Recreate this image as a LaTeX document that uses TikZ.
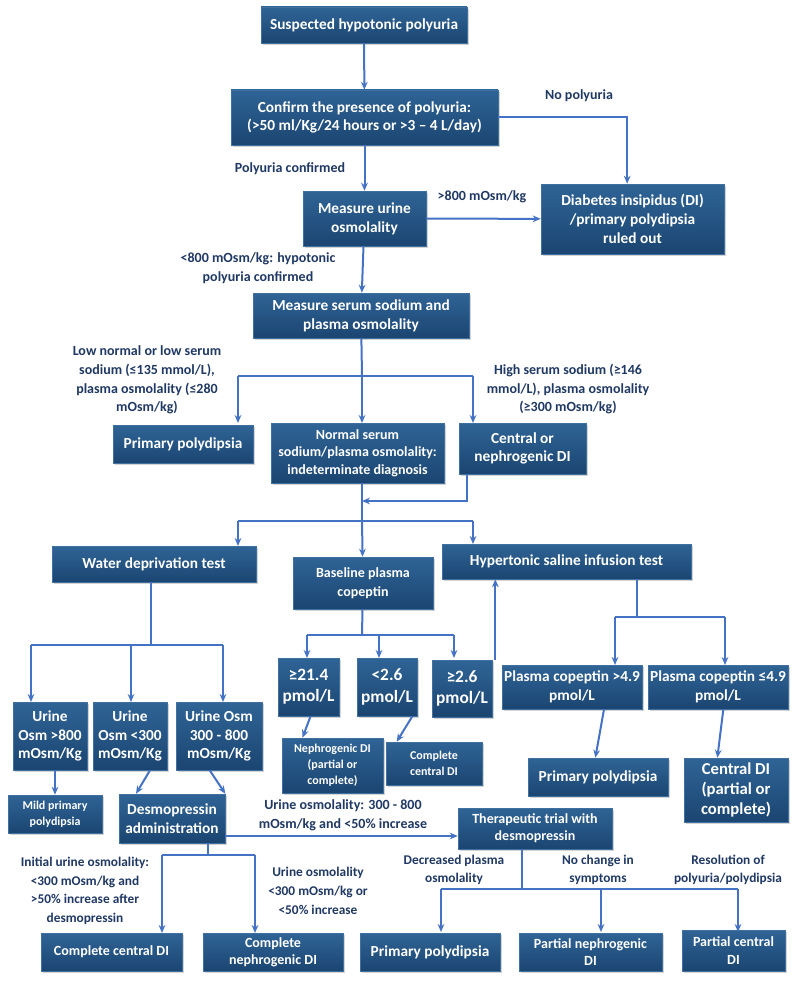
\documentclass[tikz,border=0pt]{standalone}
\usepackage{fontspec}
\setmainfont{Carlito}
\usetikzlibrary{arrows.meta,shadows}
\definecolor{boxtop}{HTML}{2F6496}
\definecolor{boxbot}{HTML}{1B4571}
\definecolor{boxedge}{HTML}{3F70A0}
\definecolor{arrowblue}{HTML}{4472C4}
\definecolor{labelblue}{HTML}{1F3864}
\tikzset{
  box/.style={top color=boxtop, bottom color=boxbot, draw=boxedge, thin,
    text=white, align=center, inner sep=1pt,
    font=\bfseries\fontsize{11.5}{14}\selectfont,
    drop shadow={opacity=0.35, shadow xshift=1.2pt, shadow yshift=-1.2pt}},
  sz/.style 2 args={minimum width=#1*0.75pt, minimum height=#2*0.75pt},
  lbl/.style={text=labelblue, align=center, inner sep=0pt,
    font=\bfseries\fontsize{10.5}{14}\selectfont},
  arr/.style={draw=arrowblue, line width=1.5pt, -{Stealth[length=6pt,width=5pt]}},
  ln/.style={draw=arrowblue, line width=1.5pt}
}
\begin{document}
\begin{tikzpicture}[x=0.75pt, y=-0.75pt]
    \useasboundingbox (0,0) rectangle (800,988);
    % boxes
    \node[box, sz={206}{36}] (susp) at (364,25) {Suspected hypotonic polyuria};
    \node[box, sz={267}{55}] (confirm) at (364.5,117.5) {Confirm the presence of polyuria:\\(>50 ml/Kg/24 hours or >3 -- 4 L/day)};
    \node[box, sz={123}{55}] (urosm) at (364.5,218.5) {Measure urine\\osmolality};
    \node[box, sz={183}{70}] (ruled) at (632.5,219) {Diabetes insipidus (DI)\\/primary polydipsia\\ruled out};
    \node[box, sz={216}{45}] (serum) at (361,315.5) {Measure serum sodium and\\plasma osmolality};
    \node[box, sz={140}{38}] (pp) at (183,444) {Primary polydipsia};
    \node[box, sz={173}{60}, font=\bfseries\fontsize{10.5}{13}\selectfont] (indet) at (357.5,453) {Normal serum\\sodium/plasma osmolality:\\indeterminate diagnosis};
    \node[box, sz={127}{51}] (cneph) at (522.5,448.5) {Central or\\nephrogenic DI};
    \node[box, sz={204}{36}] (water) at (154,564) {Water deprivation test};
    \node[box, sz={140}{52}, font=\bfseries\fontsize{10.5}{14}\selectfont] (base) at (363,583) {Baseline plasma\\copeptin};
    \node[box, sz={249}{35}] (hyper) at (566.5,561.5) {Hypertonic saline infusion test};
    \node[box, sz={74}{68}] (uA) at (50,736) {Urine\\Osm >800\\mOsm/Kg};
    \node[box, sz={74}{68}] (uB) at (130,736) {Urine\\Osm <300\\mOsm/Kg};
    \node[box, sz={86}{68}] (uC) at (219,736) {Urine Osm\\300 - 800\\mOsm/Kg};
    \node[box, sz={94}{38}, font=\bfseries\fontsize{9}{12}\selectfont] (mild) at (55,814) {Mild primary\\polydipsia};
    \node[box, sz={106}{49}] (desmo) at (172,818.5) {Desmopressin\\administration};
    \node[box, sz={61}{58}, font=\bfseries\fontsize{13}{16}\selectfont] (pA) at (308.5,687) {≥21.4\\pmol/L};
    \node[box, sz={60}{58}, font=\bfseries\fontsize{13}{16}\selectfont] (pB) at (387,687) {<2.6\\pmol/L};
    \node[box, sz={60}{57}, font=\bfseries\fontsize{13}{16}\selectfont] (pC) at (462,688.5) {≥2.6\\pmol/L};
    \node[box, sz={101}{55}, font=\bfseries\fontsize{9}{12}\selectfont] (nephA) at (332.5,765.5) {Nephrogenic DI\\(partial or\\complete)};
    \node[box, sz={96}{43}, font=\bfseries\fontsize{9}{12}\selectfont] (ccA) at (434,763.5) {Complete\\central DI};
    \node[box, sz={140}{44}] (copA) at (572,687) {Plasma copeptin >4.9\\pmol/L};
    \node[box, sz={140}{44}] (copB) at (718,687) {Plasma copeptin ≤4.9\\pmol/L};
    \node[box, sz={140}{38}] (ppB) at (598,777) {Primary polydipsia};
    \node[box, sz={104}{64}, font=\bfseries\fontsize{12.5}{15}\selectfont] (cdi) at (736,790) {Central DI\\(partial or\\complete)};
    \node[box, sz={154}{41}, font=\bfseries\fontsize{10.5}{13}\selectfont] (ther) at (535,828.5) {Therapeutic trial with\\desmopressin};
    \node[box, sz={141}{38}, font=\bfseries\fontsize{10.5}{13}\selectfont] (ccB) at (111.5,952) {Complete central DI};
    \node[box, sz={140}{38}, font=\bfseries\fontsize{10.5}{13}\selectfont] (nephB) at (273,952) {Complete\\nephrogenic DI};
    \node[box, sz={140}{38}, font=\bfseries\fontsize{11.5}{13}\selectfont] (ppC) at (430,952) {Primary polydipsia};
    \node[box, sz={143}{38}, font=\bfseries\fontsize{10.5}{13}\selectfont] (pnd) at (590.5,952) {Partial nephrogenic\\DI};
    \node[box, sz={103}{41}, font=\bfseries\fontsize{10.5}{13}\selectfont] (pcd) at (733.5,950.5) {Partial central\\DI};
    % labels
    \node[lbl] (lnopol) at (579,96) {No polyuria};
    \node[lbl] (lconf) at (290,169) {Polyuria confirmed};
    \node[lbl] (lhigh800) at (482,197) {>800 mOsm/kg};
    \node[lbl] (llow800) at (258,268) {<800 mOsm/kg: hypotonic\\polyuria confirmed};
    \node[lbl] (llowna) at (147,380) {Low normal or low serum\\sodium (≤135 mmol/L),\\plasma osmolality (≤280\\mOsm/kg)};
    \node[lbl] (lhighna) at (568,389) {High serum sodium (≥146\\mmol/L), plasma osmolality\\(≥300 mOsm/kg)};
    \node[lbl] (l300) at (343,815) {Urine osmolality: 300 - 800\\mOsm/kg and <50\% increase};
    \node[lbl, font=\bfseries\fontsize{10}{14}\selectfont] (linit) at (85,891) {Initial urine osmolality:\\<300 mOsm/kg and\\>50\% increase after\\desmopressin};
    \node[lbl, font=\bfseries\fontsize{10}{14}\selectfont] (lurine) at (318,891) {Urine osmolality\\<300 mOsm/kg or\\<50\% increase};
    \node[lbl, font=\bfseries\fontsize{10}{14}\selectfont] (ldec) at (454,870) {Decreased plasma\\osmolality};
    \node[lbl, font=\bfseries\fontsize{10}{14}\selectfont] (lnoch) at (598,870) {No change in\\symptoms};
    \node[lbl, font=\bfseries\fontsize{10}{14}\selectfont] (lres) at (728,870) {Resolution of\\polyuria/polydipsia};
    % junctions
    \coordinate (jserum) at (362,376);
    \coordinate (jcneph) at (362,501);
    \coordinate (jtest) at (362,521);
    \coordinate (jwater) at (151,645);
    \coordinate (jbase) at (362,635);
    \coordinate (jhyper) at (637,617);
    \coordinate (jdesmo) at (208,855);
    \coordinate (jther) at (522,889);
    % edges
    \draw[arr] (susp) -- (confirm);
    \draw[arr] (confirm) -- (urosm);
    \draw[arr] (confirm.east) -| ([xshift=-4]ruled.north);
    \draw[arr] (urosm) -- (ruled);
    \draw[arr] (urosm) -- (serum);
    \draw[ln] (serum) -- (jserum);
    \draw[ln] (238,376) -- (473,376);
    \foreach \x in {238,362,473}
        \draw[arr] (\x,376) -- (\x,423);
    \draw[arr] ([xshift=-42]cneph.south) |- (jcneph);
    \draw[ln] (indet.south -| jtest) -- (jtest);
    \draw[ln] (238,521) -- (473,521);
    \draw[arr] (238,521) -- (238,546);
    \draw[arr] (473,521) -- (473,544);
    \draw[arr] (jtest) -- (base);
    % water deprivation branch
    \draw[ln] (water.south -| jwater) -- (jwater);
    \draw[ln] (31,645) -- (223,645);
    \foreach \x in {31,131,223}
        \draw[arr] (\x,645) -- (\x,702);
    \draw[arr] (uA.south -| mild.north) -- (mild);
    \draw[arr] ([xshift=15]uB.south) -- ([xshift=-27]desmo.north);
    \draw[arr] ([xshift=-7]uC.south) -- ([xshift=40]desmo.north);
    % copeptin branch
    \draw[ln] (base) -- (jbase);
    \draw[ln] (307,635) -- (454,635);
    \foreach \x in {307,379,454}
        \draw[arr] (\x,635) -- (\x,658);
    \draw[arr] ([xshift=1.5]pA.south) -- ([xshift=-22.5]nephA.north);
    \draw[arr] ([xshift=19]pB.south) -- ([xshift=-28]ccA.north);
    \draw[arr] ([xshift=25]pC.north) -- ([xshift=25]pC.north |- hyper.south);
    % hypertonic branch
    \draw[ln] (hyper.south -| jhyper) -- (jhyper);
    \draw[ln] (615,617) -- (725,617);
    \draw[arr] (615,617) -- (615,665);
    \draw[arr] (725,617) -- (725,665);
    \draw[arr] ([xshift=24]copA.south) -- ([xshift=-2]ppB.north);
    \draw[arr] ([xshift=4]copB.south) -- ([xshift=-14]cdi.north);
    % desmopressin
    \draw[arr] (desmo.east |- 0,836) -- (ther.west |- 0,836);
    \draw[ln] (desmo.south -| jdesmo) -- (jdesmo);
    \draw[ln] (162,855) -- (255,855);
    \draw[arr] (162,855) -- (162,933);
    \draw[arr] (255,855) -- (255,933);
    % therapeutic trial
    \draw[ln] (ther.south -| jther) -- (jther);
    \draw[ln] (441,889) -- (738,889);
    \foreach \x in {441,601,738}
        \draw[arr] (\x,889) -- (\x,932);
\end{tikzpicture}
\end{document}
